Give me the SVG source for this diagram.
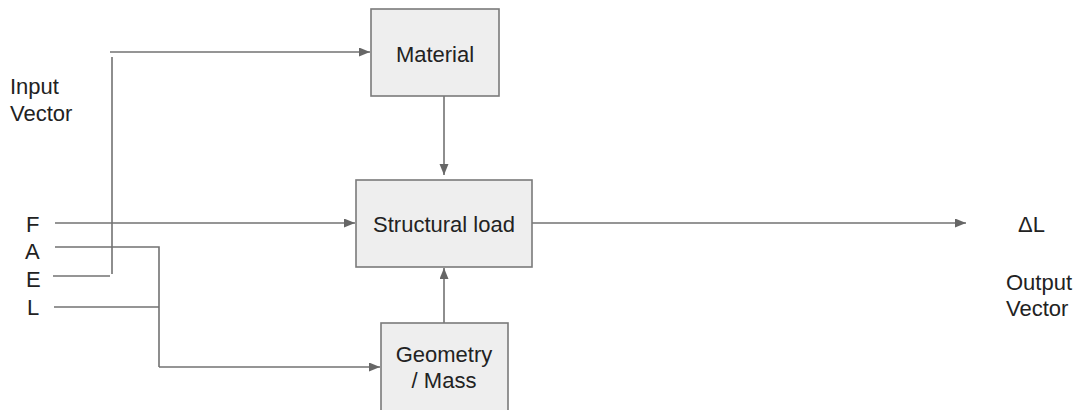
<svg xmlns="http://www.w3.org/2000/svg" width="1081" height="410" viewBox="0 0 1081 410">
<style>
.box{fill:#eeeeee;stroke:#7a7a7a;stroke-width:1.6}
.t{font-family:"Liberation Sans",Arial,sans-serif;font-size:22px;fill:#222}
.c{text-anchor:middle}
.ln{fill:none;stroke:#727272;stroke-width:1.6}
.ar{marker-end:url(#ah)}
</style>
<defs>
<marker id="ah" markerUnits="userSpaceOnUse" markerWidth="12" markerHeight="10" refX="11" refY="4.5" orient="auto">
<path d="M0,0 L11,4.5 L0,9 z" fill="#666"/>
</marker>
</defs>
<g id="connectors">
<path class="ln ar" d="M110,52 H370"/>
<path class="ln" d="M112,57 V274"/>
<path class="ln" d="M53,276 H110"/>
<path class="ln ar" d="M55,223 H355"/>
<path class="ln" d="M55,247 H159 V367"/>
<path class="ln" d="M54,307 H159"/>
<path class="ln ar" d="M159,367 H380"/>
<path class="ln ar" d="M444,96 V175"/>
<path class="ln ar" d="M444,323 V268"/>
<path class="ln ar" d="M532,223 H966"/>
</g>
<g id="material">
<rect class="box" x="371" y="9" width="128" height="87"/>
<text class="t c" x="435" y="62">Material</text>
</g>
<g id="structural-load">
<rect class="box" x="356" y="180" width="176" height="87"/>
<text class="t c" x="444" y="232">Structural load</text>
</g>
<g id="geometry-mass">
<rect class="box" x="381" y="323" width="127" height="92"/>
<text class="t c" x="444" y="362">Geometry</text>
<text class="t c" x="444" y="388">/ Mass</text>
</g>
<g id="input-vector">
<text class="t" x="10" y="94">Input</text>
<text class="t" x="10" y="121">Vector</text>
<text class="t" x="26" y="232">F</text>
<text class="t" x="25" y="259">A</text>
<text class="t" x="26" y="287">E</text>
<text class="t" x="27" y="315">L</text>
</g>
<g id="output-vector">
<text class="t" x="1018" y="232">ΔL</text>
<text class="t" x="1006" y="290">Output</text>
<text class="t" x="1006" y="316">Vector</text>
</g>
</svg>
